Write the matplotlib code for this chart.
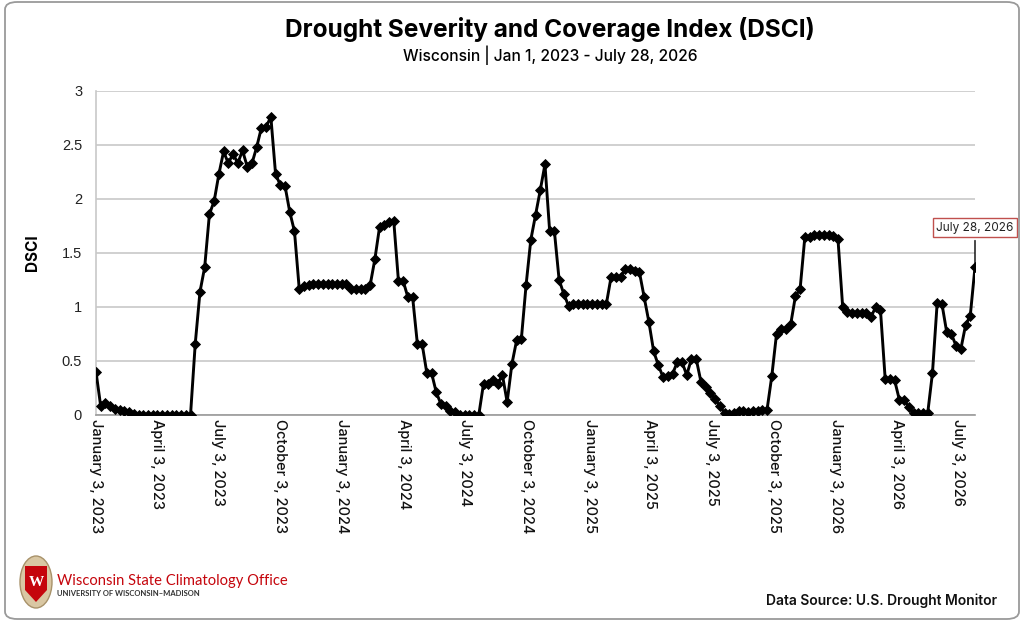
import matplotlib
matplotlib.use("Agg")
import matplotlib.pyplot as plt
from matplotlib.patches import FancyBboxPatch, Polygon, Ellipse
import pandas as pd

title = "Drought Severity and Coverage Index (DSCI)"
subtitle = "Wisconsin | Jan 1, 2023 - July 28, 2026"
start_date = "2023-01-03"
end_date = "2026-07-28"

dsci = [
    0.40, 0.08, 0.11, 0.08, 0.06, 0.05, 0.04, 0.03, 0.01,
    0.00, 0.00, 0.00, 0.00, 0.00, 0.00, 0.00, 0.00, 0.00, 0.00, 0.00, 0.00,
    0.66, 1.14, 1.37, 1.86, 1.98, 2.23, 2.44, 2.33, 2.42, 2.33, 2.45, 2.30,
    2.33, 2.48, 2.66, 2.67, 2.76, 2.23, 2.13, 2.12, 1.88, 1.70, 1.17,
    1.19, 1.20, 1.21, 1.21, 1.21, 1.21, 1.21, 1.21, 1.21, 1.21,
    1.17, 1.17, 1.17, 1.17, 1.20,
    1.44, 1.74, 1.76, 1.79, 1.80, 1.24, 1.24, 1.09, 1.09, 0.66, 0.66, 0.39,
    0.39, 0.21, 0.10, 0.08, 0.04, 0.03, 0.00, 0.00, 0.00, 0.00, 0.00,
    0.29, 0.29, 0.32, 0.29, 0.37, 0.12, 0.47, 0.69, 0.70, 1.20, 1.62, 1.85,
    2.08, 2.32, 1.70, 1.70, 1.25, 1.12, 1.01,
    1.03, 1.03, 1.03, 1.03, 1.03, 1.03, 1.03, 1.03,
    1.28, 1.28, 1.28, 1.35, 1.35, 1.33, 1.32, 1.09, 0.86, 0.59, 0.46, 0.35,
    0.36, 0.38, 0.49, 0.49, 0.37, 0.52, 0.52, 0.31, 0.26, 0.20, 0.15,
    0.08, 0.02, 0.01, 0.02, 0.04, 0.04, 0.03, 0.04, 0.04, 0.05, 0.05,
    0.36, 0.75, 0.80, 0.80, 0.84, 1.10, 1.17, 1.65, 1.65, 1.67, 1.67, 1.67,
    1.67, 1.66, 1.63, 1.00, 0.95, 0.94, 0.94, 0.94, 0.94, 0.91, 1.00, 0.97,
    0.33, 0.33, 0.32, 0.14, 0.14, 0.07, 0.02, 0.02, 0.02, 0.02, 0.39, 1.04,
    1.03, 0.77, 0.75, 0.64, 0.61, 0.83, 0.92, 1.37,
]
y_ticks = [0, 0.5, 1, 1.5, 2, 2.5, 3]
y_tick_labels = ["0", "0.5", "1", "1.5", "2", "2.5", "3"]
tick_dates = ["2023-01-03", "2023-04-03", "2023-07-03", "2023-10-03",
              "2024-01-03", "2024-04-03", "2024-07-03", "2024-10-03",
              "2025-01-03", "2025-04-03", "2025-07-03", "2025-10-03",
              "2026-01-03", "2026-04-03", "2026-07-03"]
annotation_label = "July 28, 2026"
source_text = "Data Source: U.S. Drought Monitor"
org_name = "Wisconsin State Climatology Office"
org_sub = "UNIVERSITY OF WISCONSIN\u2013MADISON"

dates = pd.date_range(start_date, end_date, freq="7D")

W, H = 1024, 624
fig = plt.figure(figsize=(W / 100, H / 100), dpi=100)
fig.patch.set_facecolor("white")

def fx(px):
    return px / W

def fy(py):
    return 1 - py / H

# outer rounded border
border = FancyBboxPatch((fx(5), fy(619)), fx(1014), 617 / H,
                        boxstyle="round,pad=0,rounding_size=0.012",
                        transform=fig.transFigure, fill=False,
                        edgecolor="#9a9a9a", linewidth=1.3)
fig.patches.append(border)

ax = fig.add_axes([fx(96), fy(415), fx(975) - fx(96), fy(91) - fy(415)])
ax.plot(dates, dsci, color="black", linewidth=2.1, marker="D", markersize=4.6,
        markeredgewidth=0.6, zorder=3)

ax.set_xlim(dates[0], dates[-1])
ax.set_ylim(0, 3)
ax.set_yticks(y_ticks)
ax.set_yticklabels(y_tick_labels)
ax.grid(axis="y", color="#d0d0d0", linewidth=1.4, zorder=0)
ax.set_axisbelow(True)
for s in ["top", "right"]:
    ax.spines[s].set_visible(False)
ax.spines["left"].set_color("#c8c8c8")
ax.spines["bottom"].set_color("#9a9a9a")
ax.spines["left"].set_linewidth(1.2)
ax.spines["bottom"].set_linewidth(1.2)

tick_dt = pd.to_datetime(tick_dates)
ax.set_xticks(tick_dt)
ax.set_xticklabels([d.strftime("%B ") + str(d.day) + d.strftime(", %Y") for d in tick_dt],
                   rotation=270, fontsize=10.5, family="Inter", color="#111111",
                   fontweight="medium")
ax.tick_params(axis="x", length=0, pad=3)
ax.tick_params(axis="y", length=0, pad=10, labelsize=10.5, labelcolor="#222222")
for lab in ax.get_yticklabels():
    lab.set_family("Liberation Sans")

ax.set_ylabel("DSCI", fontsize=11, fontweight="bold", family="Inter", labelpad=16)

# annotation for last point
ax.annotate(annotation_label, xy=(dates[-1], dsci[-1]), xytext=(0, 24),
            textcoords="offset points", ha="center", va="bottom",
            fontsize=8.5, family="Inter", color="#222222",
            bbox=dict(boxstyle="square,pad=0.3", fc="white", ec="#c0504d", lw=1),
            arrowprops=dict(arrowstyle="-", color="black", lw=1),
            annotation_clip=False)

fig.text(fx(550), fy(29), title, ha="center", va="center", fontsize=17.6,
         fontweight="bold", family="Inter", color="black")
fig.text(fx(550), fy(55), subtitle, ha="center", va="center", fontsize=11.2,
         fontweight="medium", family="Inter", color="black")

fig.text(fx(997), fy(601), source_text, ha="right", va="center", fontsize=10,
         fontweight="semibold", family="Inter", color="#111111")

# logo crest
outer = Ellipse((fx(36), fy(582)), fx(32), 52 / H, transform=fig.transFigure,
                facecolor="#d9c7a3", edgecolor="#a8926a", linewidth=1)
fig.patches.append(outer)
shield = Polygon([[fx(25), fy(566)], [fx(47), fy(566)], [fx(47), fy(590)],
                  [fx(36), fy(602)], [fx(25), fy(590)]], closed=True,
                 transform=fig.transFigure, facecolor="#c5050c", edgecolor="none")
fig.patches.append(shield)
fig.text(fx(36), fy(583), "W", ha="center", va="center", fontsize=11,
         fontweight="bold", color="white", family="Liberation Serif")

fig.text(fx(57), fy(581), org_name, ha="left", va="center", fontsize=10.6,
         color="#c5050c", family="Lato")
fig.text(fx(57), fy(594), org_sub, ha="left", va="center", fontsize=5.5,
         color="#333333", family="Lato", fontweight="bold")

fig.savefig("out.png", dpi=100, facecolor="white")
